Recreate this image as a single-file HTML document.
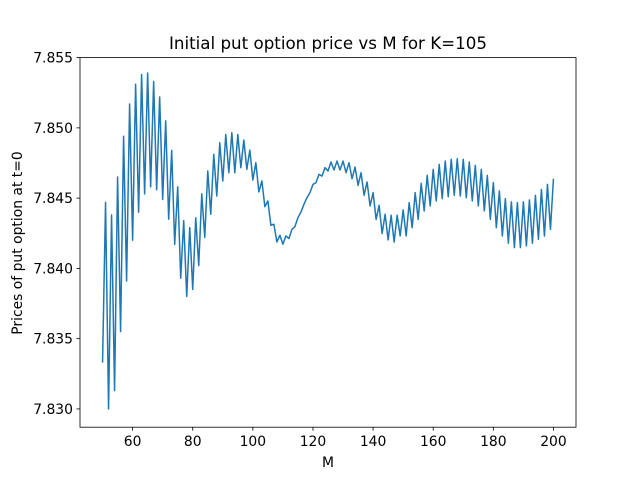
<!DOCTYPE html>
<html><head><meta charset="utf-8"><style>
body{margin:0;background:#fff}
svg text{font-family:"DejaVu Sans","Liberation Sans",sans-serif;fill:#000}
</style></head><body>
<svg id="chart" width="640" height="480">
<rect width="640" height="480" fill="#fff"/>
<text x="328" y="49" font-size="16.7" text-anchor="middle">Initial put option price vs M for K=105</text>
<text x="328" y="467" font-size="13.9" text-anchor="middle">M</text>
<text transform="translate(22,243) rotate(-90)" font-size="13.9" text-anchor="middle">Prices of put option at t=0</text>
<g id="ticks"></g>
<path id="line" fill="none" stroke="#1f77b4" stroke-width="1.5" stroke-linejoin="round"/>
<rect x="80" y="57.6" width="496" height="369.6" fill="none" stroke="#000" stroke-width="0.8"/>
</svg>
<script>
const mStart = 50;
const prices = [
7.8333,7.8447,7.8300,7.8438,7.8313,7.8465,7.8355,7.8494,7.8391,7.8517,
7.8420,7.8531,7.8440,7.8538,7.8453,7.8539,7.8458,7.8533,7.8456,7.8522,
7.8449,7.8505,7.8435,7.8484,7.8417,7.8458,7.8393,7.8434,7.8380,7.8429,
7.8385,7.8436,7.8402,7.8453,7.8422,
7.84693,7.84385,7.84811,7.84515,7.84894,7.84622,7.84953,7.84681,7.84965,7.84681,
7.84953,7.84717,7.84913,7.84705,7.84842,7.84629,7.84752,7.84544,7.84622,7.84439,
7.84480,7.84307,7.84314,7.84188,7.84236,7.84172,7.84231,7.84212,7.84278,7.84297,
7.84361,7.84401,7.84456,7.84503,7.84539,7.84598,7.84610,7.84669,7.84657,7.84717,
7.84693,7.84757,7.84700,7.84764,7.84700,7.84764,7.84681,7.84752,7.84638,7.84721,7.84591,
7.84681,7.84520,7.84615,7.84444,7.84539,7.84349,7.84449,7.84248,7.84385,7.84203,
7.84378,7.84188,7.84378,7.84231,7.84416,7.84231,7.84468,7.84290,7.84539,7.84349,
7.84605,7.84409,7.84662,7.84444,7.84705,7.84480,7.84740,7.84496,7.84764,7.84510,
7.84776,7.84520,7.84780,7.84515,7.84776,7.84503,7.84757,7.84480,7.84733,7.84444,
7.84705,7.84409,7.84662,7.84349,7.84610,7.84290,7.84551,7.84231,7.84496,7.84179,
7.84473,7.84148,7.84468,7.84148,7.84473,7.84160,7.84487,7.84179,7.84520,7.84207,
7.84562,7.84231,7.84598,7.84278,7.84638
];
const xTicks = [60,80,100,120,140,160,180,200];
const yTicks = [7.830,7.835,7.840,7.845,7.850,7.855];

const L=80,R=576,T=57.6,B=427.2;
const xMin=42.5,xMax=207.5,yMin=7.8287,yMax=7.8550;
const sx=v=>L+(v-xMin)/(xMax-xMin)*(R-L);
const sy=v=>B-(v-yMin)/(yMax-yMin)*(B-T);
const NS="http://www.w3.org/2000/svg";
const g=document.getElementById('ticks');
xTicks.forEach(t=>{
  const l=document.createElementNS(NS,'line');
  l.setAttribute('x1',sx(t));l.setAttribute('x2',sx(t));l.setAttribute('y1',B);l.setAttribute('y2',B+3.5);
  l.setAttribute('stroke','#000');l.setAttribute('stroke-width','0.8');
  
  
  g.appendChild(l);
  const tx=document.createElementNS(NS,'text');
  tx.setAttribute('x',sx(t));tx.setAttribute('y',B+19);tx.setAttribute('font-size','13.9');tx.setAttribute('text-anchor','middle');
  tx.textContent=t;
  
  
  g.appendChild(tx);
});
yTicks.forEach(t=>{
  const l=document.createElementNS(NS,'line');
  l.setAttribute('x1',L-3.5);l.setAttribute('x2',L);l.setAttribute('y1',sy(t));l.setAttribute('y2',sy(t));
  l.setAttribute('stroke','#000');l.setAttribute('stroke-width','0.8');
  
  
  g.appendChild(l);
  const tx=document.createElementNS(NS,'text');
  tx.setAttribute('x',L-7);tx.setAttribute('y',sy(t)+5);tx.setAttribute('font-size','13.9');tx.setAttribute('text-anchor','end');
  tx.textContent=t.toFixed(3);
  
  
  g.appendChild(tx);
});
document.getElementById('line').setAttribute('d',prices.map((v,i)=>(i?'L':'M')+sx(mStart+i).toFixed(2)+','+sy(v).toFixed(2)).join(''));
</script>
</body></html>
